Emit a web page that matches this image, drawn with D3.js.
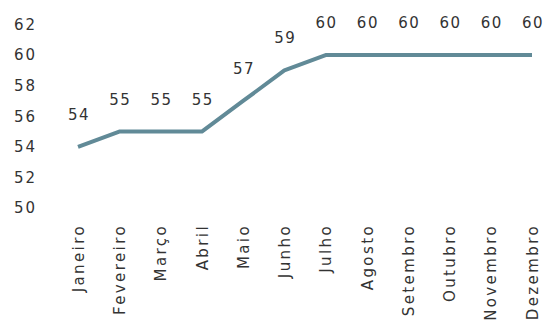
<!DOCTYPE html>
<html>
<head>
<meta charset="utf-8">
<script src="https://cdn.jsdelivr.net/npm/d3@7"></script>
<style>
  html, body { margin: 0; padding: 0; background: #fff; }
  svg { display: block; }
  text { font-family: "DejaVu Sans", sans-serif; fill: #333; }
</style>
</head>
<body>
<svg id="chart" width="546" height="326"></svg>
<script>
// Monthly values
const months = ["Janeiro", "Fevereiro", "Março", "Abril", "Maio", "Junho",
                "Julho", "Agosto", "Setembro", "Outubro", "Novembro", "Dezembro"];
const values = [54, 55, 55, 55, 57, 59, 60, 60, 60, 60, 60, 60];
const yTicks = [50, 52, 54, 56, 58, 60, 62];

const FONT = "DejaVu Sans, sans-serif";
const svg = d3.select("#chart");

const x = d3.scalePoint().domain(months).range([78, 532]);
const y = d3.scaleLinear().domain([50, 62]).range([208, 24.5]);

// Y axis labels (no axis line)
const yAxis = svg.append("g")
  .attr("transform", "translate(37,0)")
  .call(d3.axisLeft(y).tickValues(yTicks).tickSize(0).tickPadding(0));
yAxis.select(".domain").remove();
yAxis.selectAll("text")
  .style("font-size", "15px")
  .style("font-family", FONT)
  .style("letter-spacing", "2px")
  .attr("fill", "#333");

// X axis labels, rotated
const xAxis = svg.append("g")
  .attr("transform", "translate(0,224)")
  .call(d3.axisBottom(x).tickSize(0).tickPadding(0));
xAxis.select(".domain").remove();
xAxis.selectAll("text")
  .style("font-size", "15px")
  .style("font-family", FONT)
  .style("letter-spacing", "2.4px")
  .attr("fill", "#333")
  .attr("transform", "rotate(-90)")
  .attr("text-anchor", "end")
  .attr("x", 0)
  .attr("y", 0)
  .attr("dy", "0.35em");

const data = months.map((m, i) => ({ m, v: values[i] }));

// Line
svg.append("path")
  .datum(data)
  .attr("fill", "none")
  .attr("stroke", "#618a97")
  .attr("stroke-width", 4)
  .attr("stroke-linejoin", "round")
  .attr("d", d3.line().x(d => x(d.m)).y(d => y(d.v)));

// Value labels
svg.append("g")
  .selectAll("text")
  .data(data)
  .join("text")
  .attr("x", d => x(d.m) + 1)
  .attr("y", d => y(d.v) - 27)
  .attr("text-anchor", "middle")
  .style("font-size", "15px")
  .style("letter-spacing", "1.5px")
  .text(d => d.v);
</script>
</body>
</html>
